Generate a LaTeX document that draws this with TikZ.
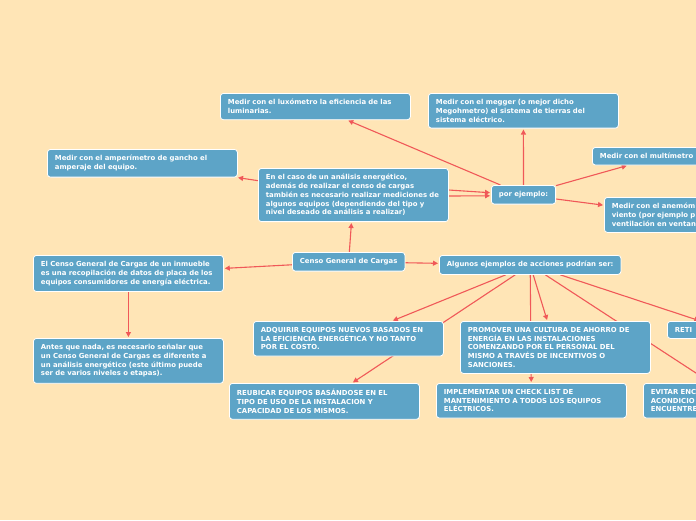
\documentclass[tikz,border=0pt]{standalone}
\usepackage{fontspec}
\newfontfamily\mapfont{DejaVu Sans}
\usetikzlibrary{arrows.meta}
\definecolor{paper}{RGB}{255,229,182}
\definecolor{topicblue}{RGB}{93,164,199}
\definecolor{linkred}{RGB}{240,88,88}
\pgfdeclarelayer{paperlayer}
\pgfdeclarelayer{linklayer}
\pgfsetlayers{paperlayer,linklayer,main}
\tikzset{
  topic/.style={draw=white, line width=0.8pt, fill=topicblue, rounded corners=3pt,
    text=white, font=\mapfont\bfseries\fontsize{6.9}{8.7}\selectfont,
    align=left, anchor=north west, inner xsep=7.5pt, inner ysep=6pt},
  wide/.style={topic, text width=175pt},
  link/.style={draw=linkred, line width=1.1pt, shorten >=1pt,
    -{Triangle[length=5pt,width=5pt]}}
}
\begin{document}
\begin{tikzpicture}[x=1pt,y=-1pt]
\begin{pgfonlayer}{paperlayer}
\fill[paper] (0,0) rectangle (696,520);
\end{pgfonlayer}
\useasboundingbox (0,0) rectangle (696,520);

% centre
\node [topic](censo) at (292,252) {Censo General de Cargas};
\node [wide](definicion) at (33,255) {El Censo General de Cargas de un inmueble\\es una recopilación de datos de placa de los\\equipos consumidores de energía eléctrica.};
\node [wide](antes) at (33,338) {Antes que nada, es necesario señalar que\\un Censo General de Cargas es diferente a\\un análisis energético (este último puede\\ser de varios niveles o etapas).};

% analisis energetico
\node [wide](caso) at (258,168) {En el caso de un análisis energético,\\además de realizar el censo de cargas\\también es necesario realizar mediciones de\\algunos equipos (dependiendo del tipo y\\nivel deseado de análisis a realizar)};
\node [wide](amper) at (47,149) {Medir con el amperímetro de gancho el\\amperaje del equipo.};
\node [topic](porej) at (491,185) {por ejemplo:};
\node [wide](lux) at (220,93) {Medir con el luxómetro la eficiencia de las\\luminarias.};
\node [wide](megger) at (428,93) {Medir con el megger (o mejor dicho\\Megohmetro) el sistema de tierras del\\sistema eléctrico.};
\node [topic, text width=121pt](multi) at (592,147) {Medir con el multímetro};
\node [topic, text width=133pt](anemo) at (604,197) {Medir con el anemóm\\viento (por ejemplo p\\ventilación en ventan};

% acciones
\node [topic](algunos) at (439,255) {Algunos ejemplos de acciones podrían ser:};
\node [wide](adquirir) at (253,321) {ADQUIRIR EQUIPOS NUEVOS BASADOS EN\\LA EFICIENCIA ENERGÉTICA Y NO TANTO\\POR EL COSTO.};
\node [wide](promover) at (460,321) {PROMOVER UNA CULTURA DE AHORRO DE\\ENERGÍA EN LAS INSTALACIONES\\COMENZANDO POR EL PERSONAL DEL\\MISMO A TRAVÉS DE INCENTIVOS O\\SANCIONES.};
\node [topic, text width=105pt](reti) at (667,321) {RETI};
\node [wide](reubicar) at (229,383) {REUBICAR EQUIPOS BASÁNDOSE EN EL\\TIPO DE USO DE LA INSTALACION Y\\CAPACIDAD DE LOS MISMOS.};
\node [wide](implementar) at (436,383) {IMPLEMENTAR UN CHECK LIST DE\\MANTENIMIENTO A TODOS LOS EQUIPOS\\ELÉCTRICOS.};
\node [wide](evitar) at (643,383) {EVITAR ENC\\ACONDICIO\\ENCUENTRE};

\begin{pgfonlayer}{linklayer}
\draw[link] (censo) -- (caso);
\draw[link] (censo) -- (definicion);
\draw[link] (censo) -- (algunos);
\draw[link] (definicion) -- (antes);
\draw[link] (caso) -- (amper);
\draw[link] ([yshift=5pt]caso.east) -- ([yshift=2pt]porej.west);
\draw[link] ([yshift=-1pt]caso.east) -- ([yshift=-1pt]porej.west);
\draw[link] (porej) -- (lux);
\draw[link] (porej) -- (megger);
\draw[link] (porej) -- (multi);
\draw[link] (porej) -- (anemo);
\draw[link] (algunos) -- (adquirir);
\draw[link] (algunos) -- (reubicar);
\draw[link] (algunos) -- (implementar);
\draw[link] (algunos) -- (promover);
\draw[link] (algunos) -- (evitar);
\draw[link] (algunos) -- (reti);
\end{pgfonlayer}
\end{tikzpicture}
\end{document}
